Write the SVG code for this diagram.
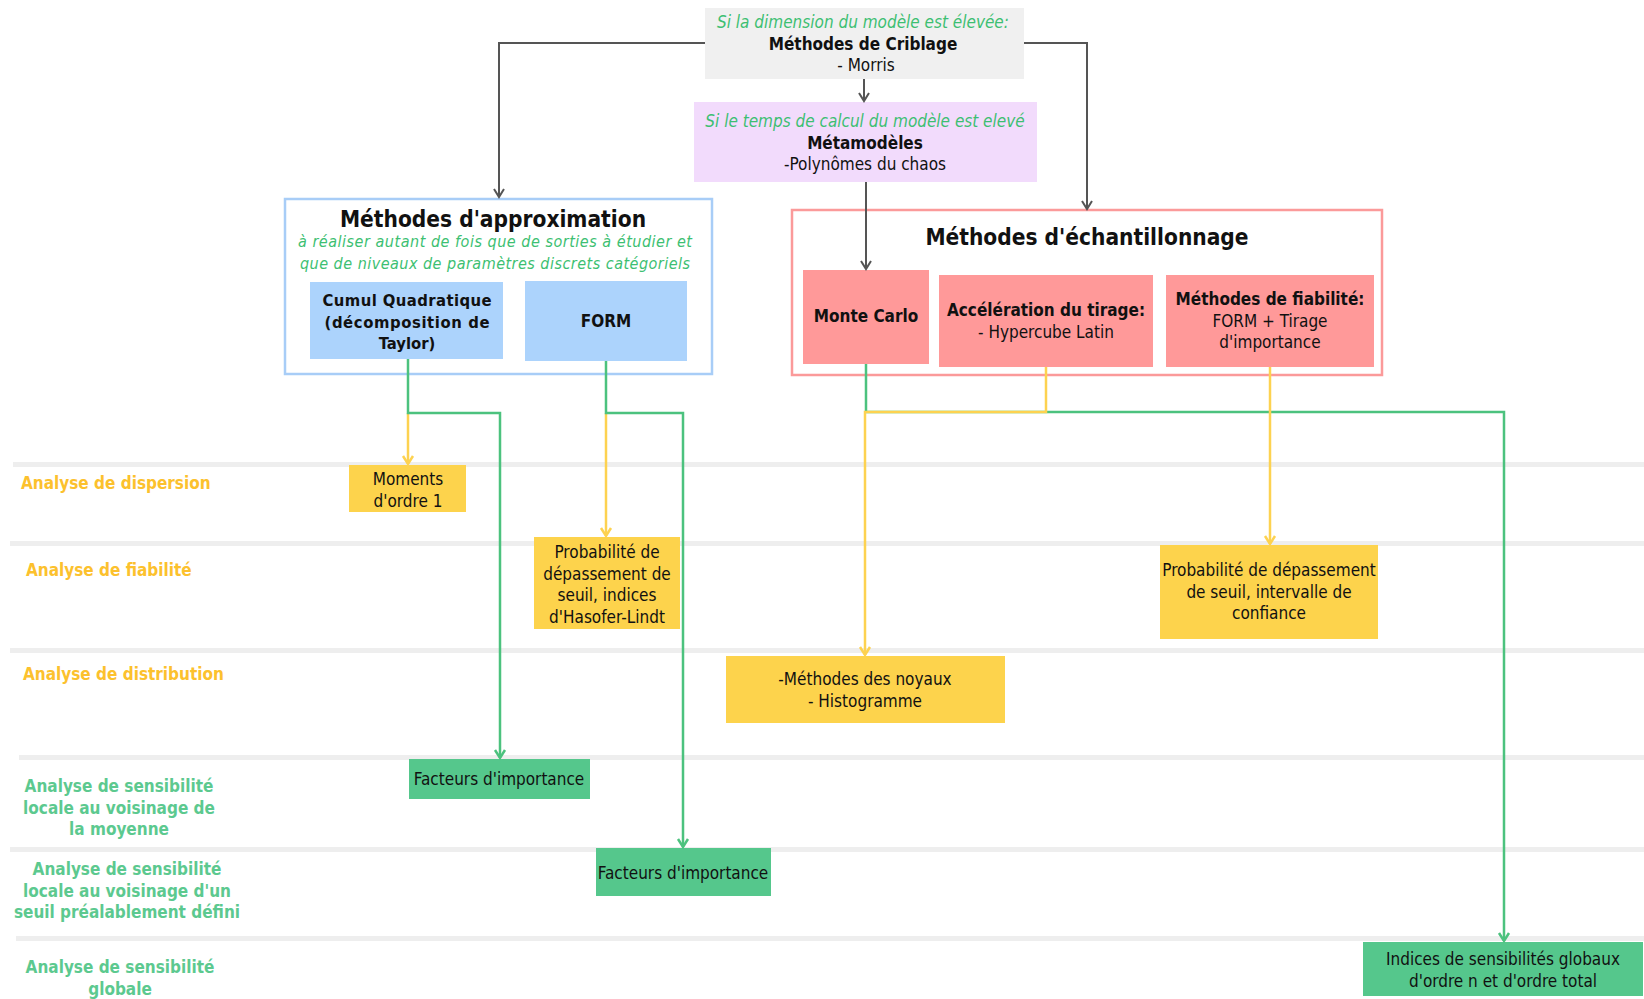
<svg xmlns="http://www.w3.org/2000/svg" width="1644" height="999" viewBox="0 0 1644 999">
<defs>
<style>
.t{font-family:"DejaVu Sans Condensed","DejaVu Sans",sans-serif;font-stretch:condensed;fill:#111;text-anchor:middle;font-size:17px}
.b{font-weight:bold}
.it{font-style:italic;fill:#3dbf72}
.ttl{font-size:22.5px}
.sm{font-size:16px}
.md{font-size:16.5px}
.lane{fill:#eeeeee}
.lo{font-family:"DejaVu Sans Condensed","DejaVu Sans",sans-serif;font-stretch:condensed;font-weight:bold;font-size:17px;fill:#fcc12d}
.lg{font-family:"DejaVu Sans Condensed","DejaVu Sans",sans-serif;font-stretch:condensed;font-weight:bold;font-size:17px;fill:#5cc98f;text-anchor:middle}
.yel{fill:#fdd34c}
.grn{fill:#55c78c}
.red{fill:#ff9999}
.blu{fill:#acd3fc}
.cg{fill:none;stroke:#555;stroke-width:2}
.cgr{fill:none;stroke:#4cc27e;stroke-width:2.5}
.cy{fill:none;stroke:#fdd250;stroke-width:2.5}
</style>
<marker id="ag" markerUnits="userSpaceOnUse" markerWidth="20" markerHeight="20" viewBox="-10 -10 20 20" refX="0" refY="0" orient="auto"><path d="M-8,-5 L0,0 L-8,5" fill="none" stroke="#555" stroke-width="2"/></marker>
<marker id="agr" markerUnits="userSpaceOnUse" markerWidth="20" markerHeight="20" viewBox="-10 -10 20 20" refX="0" refY="0" orient="auto"><path d="M-8,-5 L0,0 L-8,5" fill="none" stroke="#4cc27e" stroke-width="2.5"/></marker>
<marker id="ay" markerUnits="userSpaceOnUse" markerWidth="20" markerHeight="20" viewBox="-10 -10 20 20" refX="0" refY="0" orient="auto"><path d="M-8,-5 L0,0 L-8,5" fill="none" stroke="#fdd250" stroke-width="2.5"/></marker>
</defs>
<rect x="0" y="0" width="1644" height="999" fill="#ffffff"/>

<g id="lanes">
<rect class="lane" x="13" y="462" width="1631" height="5"/>
<rect class="lane" x="10" y="541" width="1634" height="5"/>
<rect class="lane" x="10" y="648" width="1634" height="5"/>
<rect class="lane" x="19" y="755" width="1625" height="5"/>
<rect class="lane" x="10" y="847" width="1634" height="5"/>
<rect class="lane" x="16" y="936" width="1628" height="5"/>
<text class="lo" x="21" y="489">Analyse de dispersion</text>
<text class="lo" x="26" y="576">Analyse de fiabilité</text>
<text class="lo" x="23" y="680">Analyse de distribution</text>
<text class="lg" x="119" y="792">Analyse de sensibilité</text>
<text class="lg" x="119" y="814">locale au voisinage de</text>
<text class="lg" x="119" y="835">la moyenne</text>
<text class="lg" x="127" y="875">Analyse de sensibilité</text>
<text class="lg" x="127" y="897">locale au voisinage d'un</text>
<text class="lg" x="127" y="918">seuil préalablement défini</text>
<text class="lg" x="120" y="973">Analyse de sensibilité</text>
<text class="lg" x="120" y="995">globale</text>
</g>

<g id="criblage">
<rect x="705" y="8" width="319" height="71" fill="#f0f0f0"/>
<text class="t it" x="863" y="28">Si la dimension du modèle est élevée:</text>
<text class="t b" x="863" y="50">Méthodes de Criblage</text>
<text class="t" x="866" y="71">- Morris</text>
</g>

<g id="metamodeles">
<rect x="694" y="102" width="343" height="80" fill="#f2dbfc"/>
<text class="t it" x="865" y="127">Si le temps de calcul du modèle est elevé</text>
<text class="t b" x="865" y="149">Métamodèles</text>
<text class="t" x="865" y="170">-Polynômes du chaos</text>
</g>

<g id="approximation">
<rect x="285" y="199" width="427" height="175" fill="#ffffff" stroke="#a8cdf7" stroke-width="2.5"/>
<text class="t b ttl" x="493" y="227">Méthodes d'approximation</text>
<text class="t it sm" x="495" y="247" textLength="394" lengthAdjust="spacing">à réaliser autant de fois que de sorties à étudier et</text>
<text class="t it sm" x="495" y="269" textLength="390" lengthAdjust="spacing">que de niveaux de paramètres discrets catégoriels</text>
</g>

<g id="cumul">
<rect class="blu" x="310" y="282" width="193" height="77"/>
<text class="t b md" x="407" y="306" textLength="169" lengthAdjust="spacing">Cumul Quadratique</text>
<text class="t b md" x="407" y="328" textLength="165" lengthAdjust="spacing">(décomposition de</text>
<text class="t b md" x="407" y="349">Taylor)</text>
</g>

<g id="form">
<rect class="blu" x="525" y="281" width="162" height="80"/>
<text class="t b" x="606" y="327">FORM</text>
</g>

<g id="echantillonnage">
<rect x="792" y="210" width="590" height="165" fill="#ffffff" stroke="#fb9a9a" stroke-width="2.5"/>
<text class="t b ttl" x="1087" y="245">Méthodes d'échantillonnage</text>
</g>

<g id="montecarlo">
<rect class="red" x="803" y="270" width="126" height="94"/>
<text class="t b" x="866" y="322">Monte Carlo</text>
</g>

<g id="acceleration">
<rect class="red" x="939" y="275" width="214" height="92"/>
<text class="t b" x="1046" y="316">Accélération du tirage:</text>
<text class="t" x="1046" y="338">- Hypercube Latin</text>
</g>

<g id="fiabilite">
<rect class="red" x="1166" y="275" width="208" height="92"/>
<text class="t b" x="1270" y="305">Méthodes de fiabilité:</text>
<text class="t" x="1270" y="327">FORM + Tirage</text>
<text class="t" x="1270" y="348">d'importance</text>
</g>

<g id="moments">
<rect class="yel" x="349" y="465" width="117" height="47"/>
<text class="t" x="408" y="485">Moments</text>
<text class="t" x="408" y="507">d'ordre 1</text>
</g>

<g id="proba-form">
<rect class="yel" x="534" y="537" width="146" height="92"/>
<text class="t" x="607" y="558">Probabilité de</text>
<text class="t" x="607" y="580">dépassement de</text>
<text class="t" x="607" y="601">seuil, indices</text>
<text class="t" x="607" y="623">d'Hasofer-Lindt</text>
</g>

<g id="proba-fiab">
<rect class="yel" x="1160" y="545" width="218" height="94"/>
<text class="t" x="1269" y="576">Probabilité de dépassement</text>
<text class="t" x="1269" y="598">de seuil, intervalle de</text>
<text class="t" x="1269" y="619">confiance</text>
</g>

<g id="noyaux">
<rect class="yel" x="726" y="656" width="279" height="67"/>
<text class="t" x="865" y="685">-Méthodes des noyaux</text>
<text class="t" x="865" y="707">- Histogramme</text>
</g>

<g id="facteurs1">
<rect class="grn" x="409" y="759" width="181" height="40"/>
<text class="t" x="499" y="785">Facteurs d'importance</text>
</g>

<g id="facteurs2">
<rect class="grn" x="596" y="848" width="175" height="48"/>
<text class="t" x="683" y="879">Facteurs d'importance</text>
</g>

<g id="indices">
<rect class="grn" x="1363" y="942" width="280" height="54"/>
<text class="t" x="1503" y="965">Indices de sensibilités globaux</text>
<text class="t" x="1503" y="987">d'ordre n et d'ordre total</text>
</g>

<g id="connectors">
<path class="cg" d="M705,43 H499 V197" marker-end="url(#ag)"/>
<path class="cg" d="M1024,43 H1087 V209" marker-end="url(#ag)"/>
<path class="cg" d="M864,79 V101" marker-end="url(#ag)"/>
<path class="cg" d="M866,182 V269" marker-end="url(#ag)"/>
<path class="cy" d="M408,413 V464" marker-end="url(#ay)"/>
<path class="cgr" d="M408,359 V413 H500 V758" marker-end="url(#agr)"/>
<path class="cy" d="M606,413 V536" marker-end="url(#ay)"/>
<path class="cgr" d="M606,361 V413 H683 V847" marker-end="url(#agr)"/>
<path class="cgr" d="M866,364 V412 H1504 V941" marker-end="url(#agr)"/>
<path class="cy" d="M1046,367 V412 H865 V655" marker-end="url(#ay)"/>
<path class="cy" d="M1270,367 V544" marker-end="url(#ay)"/>
</g>
</svg>
